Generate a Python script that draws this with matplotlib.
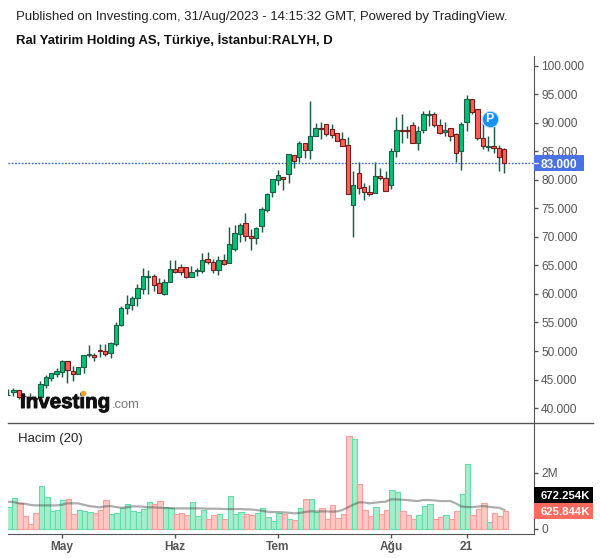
"""Investing.com daily candlestick chart for RALYH with volume pane."""

import matplotlib.patheffects as pe
import matplotlib.pyplot as plt
import numpy as np
from matplotlib.patches import Rectangle

plt.rcParams["font.family"] = ["Liberation Sans", "DejaVu Sans"]

W, H = 600, 558

OPEN = [
    42.25, 42.75, 43.09, 42.16, 41.98, 41.75, 41.98, 43.97, 45.32, 46.02,
    46.37, 48.18, 46.43, 46.02, 47.13, 49.24, 49.35, 50.11, 49.94, 49.59,
    51.28, 54.62, 57.60, 58.13, 59.36, 60.94, 63.04, 63.10, 61.87, 60.06,
    62.16, 64.33, 64.68, 64.68, 63.04, 63.98, 64.09, 66.08, 65.56, 64.27,
    65.91, 65.38, 67.95, 70.58, 72.40, 70.12, 69.77, 71.87, 74.80, 77.95,
    80.06, 80.47, 81.11, 84.33, 84.09, 86.43, 85.32, 87.66, 89.12, 89.77,
    88.89, 88.19, 87.13, 86.09, 75.68, 81.17, 78.72, 77.84, 77.78, 80.65,
    80.30, 79.18, 85.03, 88.78, 88.78, 89.59, 86.44, 88.72, 91.47, 91.52,
    89.59, 88.48, 89.07, 88.02, 85.03, 90.12, 94.16, 92.40, 87.31, 85.73,
    85.91, 85.56, 85.38,
]
CLOSE = [
    42.30, 43.09, 41.98, 42.04, 41.81, 41.63, 44.15, 45.38, 46.08, 46.43,
    48.18, 46.60, 46.02, 47.13, 49.24, 49.41, 48.88, 49.94, 49.53, 51.34,
    54.50, 57.49, 58.19, 59.24, 60.99, 63.10, 63.16, 61.64, 60.23, 62.16,
    64.33, 63.92, 63.92, 62.92, 63.92, 64.15, 65.91, 65.56, 64.27, 65.91,
    65.20, 68.71, 70.64, 72.05, 70.12, 69.77, 71.52, 74.85, 77.49, 80.12,
    80.82, 80.23, 84.50, 83.39, 86.43, 85.32, 87.66, 89.07, 89.01, 88.13,
    87.95, 86.90, 86.02, 77.49, 79.07, 78.54, 77.84, 77.61, 80.65, 80.30,
    78.13, 85.03, 88.72, 88.66, 88.66, 86.44, 88.54, 91.52, 91.58, 89.59,
    88.31, 88.72, 87.66, 84.68, 89.77, 94.16, 91.87, 87.31, 86.03, 85.91,
    85.56, 83.98, 83.00,
]
HIGH = [
    43.27, 43.45, 43.09, 42.57, 42.57, 42.10, 44.73, 45.79, 46.20, 46.96,
    48.42, 48.18, 47.36, 47.25, 49.29, 51.05, 49.70, 51.22, 51.22, 51.57,
    55.03, 57.89, 59.82, 59.65, 61.75, 64.50, 64.21, 63.45, 62.81, 62.57,
    65.96, 65.96, 65.26, 64.68, 64.91, 64.50, 67.13, 67.37, 66.08, 66.67,
    67.02, 71.75, 72.11, 72.40, 74.21, 71.35, 71.70, 75.20, 77.66, 80.12,
    81.75, 80.47, 84.50, 84.33, 86.84, 86.43, 93.86, 90.00, 90.18, 89.77,
    89.83, 88.19, 88.42, 87.55, 81.58, 83.10, 79.42, 79.13, 83.10, 82.05,
    81.58, 85.62, 91.06, 91.58, 89.42, 90.12, 89.42, 92.11, 92.28, 91.87,
    90.70, 90.18, 89.07, 88.19, 90.12, 94.92, 94.16, 92.40, 90.82, 87.66,
    89.65, 86.09, 85.56,
]
LOW = [
    42.22, 42.10, 41.52, 41.57, 41.40, 41.28, 41.40, 43.45, 44.79, 45.38,
    45.49, 44.44, 44.79, 46.02, 46.20, 48.88, 48.30, 49.00, 49.12, 48.83,
    50.93, 54.44, 56.49, 57.19, 57.89, 60.00, 60.00, 60.53, 60.23, 59.82,
    62.16, 63.68, 63.33, 62.87, 63.04, 63.16, 63.74, 65.26, 63.68, 63.33,
    65.09, 65.38, 67.60, 69.12, 69.30, 67.72, 68.77, 70.94, 74.44, 77.08,
    79.12, 78.25, 79.53, 82.11, 83.22, 83.86, 83.68, 87.66, 87.25, 87.78,
    87.37, 86.90, 86.02, 77.49, 70.06, 77.61, 76.49, 77.20, 77.78, 80.00,
    78.13, 78.48, 84.10, 86.44, 87.43, 86.44, 85.32, 88.31, 89.54, 89.24,
    88.07, 87.78, 86.90, 83.10, 81.82, 88.66, 91.64, 86.96, 85.50, 85.09,
    84.74, 81.58, 81.29,
]
VOLUME = [
    0.762, 1.083, 0.905, 0.440, 0.155, 0.548, 1.512, 1.119, 0.619, 0.655,
    1.012, 1.048, 0.512, 0.655, 0.619, 0.583, 0.548, 0.655, 1.012, 0.512,
    0.548, 0.726, 0.869, 0.619, 0.583, 0.690, 0.940, 0.869, 0.976, 0.762,
    0.726, 0.512, 0.548, 0.476, 0.940, 0.440, 0.655, 0.333, 0.476, 0.512,
    0.333, 1.155, 0.512, 0.583, 0.512, 0.476, 0.548, 0.726, 0.405, 0.262,
    0.548, 0.512, 0.333, 0.298, 0.726, 1.048, 1.048, 0.583, 0.726, 0.333,
    0.833, 0.369, 0.512, 3.298, 3.190, 1.583, 0.655, 0.440, 0.762, 0.512,
    0.655, 1.369, 1.298, 0.619, 0.476, 0.333, 0.476, 0.798, 0.869, 0.333,
    0.405, 0.476, 0.333, 0.619, 1.226, 2.298, 0.476, 0.690, 0.905, 0.226,
    0.548, 0.440, 0.626,
]
VOLUME_MA = [
    0.964, 0.952, 0.905, 0.893, 0.857, 0.833, 0.833, 0.833, 0.833, 0.833,
    0.857, 0.905, 0.905, 0.905, 0.857, 0.810, 0.786, 0.762, 0.798, 0.810,
    0.774, 0.750, 0.762, 0.798, 0.798, 0.786, 0.762, 0.762, 0.750, 0.738,
    0.738, 0.726, 0.726, 0.726, 0.726, 0.726, 0.726, 0.714, 0.714, 0.714,
    0.702, 0.702, 0.702, 0.702, 0.690, 0.690, 0.667, 0.643, 0.607, 0.595,
    0.595, 0.583, 0.571, 0.548, 0.560, 0.595, 0.619, 0.619, 0.619, 0.619,
    0.607, 0.619, 0.667, 0.762, 0.857, 0.940, 0.940, 0.905, 0.929, 0.952,
    0.964, 1.048, 1.048, 1.036, 1.024, 1.000, 0.988, 1.024, 1.024, 1.012,
    0.988, 0.988, 0.988, 0.905, 0.798, 0.774, 0.774, 0.786, 0.810, 0.786,
    0.762, 0.750, 0.672,
]

PRICE_TICKS = [40, 45, 50, 55, 60, 65, 70, 75, 80, 85, 90, 95, 100]
VOLUME_TICKS = [0, 2]
VOLUME_TICK_LABELS = ["0", "2M"]
MONTH_POS = [10, 31, 50, 71, 85]
MONTH_LABELS = ["May", "Haz", "Tem", "Ağu", "21"]
LAST_PRICE = 83.0

UP = "#00c274"
UP_EDGE = "#1b5e45"
DOWN = "#ff5f57"
DOWN_EDGE = "#751c1c"
WICK = "#1b5e45"
AXIS = "#555555"
TEXT = "#555555"


def px_rect(left, top, right, bottom):
    return [left / W, 1 - bottom / H, (right - left) / W, (bottom - top) / H]


def tag(fig, top, bottom, right, color, label, size):
    fig.add_artist(
        Rectangle(
            (534 / W, 1 - bottom / H),
            (right - 534) / W,
            (bottom - top) / H,
            transform=fig.transFigure,
            facecolor=color,
            edgecolor="none",
            zorder=5,
        )
    )
    fig.text(
        541 / W, 1 - (top + bottom) / 2 / H, label,
        color="white", fontsize=size, fontweight="bold", va="center_baseline", zorder=6,
    )


def main():
    o = np.array(OPEN)
    c = np.array(CLOSE)
    idx = np.arange(len(o))
    up = c >= o

    fig = plt.figure(figsize=(W / 100, H / 100), dpi=100)
    ax = fig.add_axes(px_rect(8, 56, 534, 423))
    vol = fig.add_axes(px_rect(8, 423, 534, 534))

    per_px = 1 / 5.395
    xlim = (0, 526 * per_px)
    ax.set_xlim(*xlim)
    vol.set_xlim(*xlim)
    ax.set_ylim(37.37, 101.75)
    vol.set_ylim(-0.189, 3.775)

    ax.axhline(LAST_PRICE, color="#2962e8", linewidth=1.0, linestyle=(0, (1.2, 1.2)), zorder=1)
    ax.vlines(idx, LOW, HIGH, color=WICK, linewidth=1.05, zorder=2)
    ax.bar(
        idx, np.abs(c - o), bottom=np.minimum(o, c), width=0.8,
        color=[UP if u else DOWN for u in up],
        edgecolor=[UP_EDGE if u else DOWN_EDGE for u in up],
        linewidth=0.8, zorder=3,
    )

    vol.bar(
        idx + 0.2, VOLUME, width=1.0,
        color=["#a6edcb" if u else "#ffc8c4" for u in up],
        edgecolor=["#62dcaa" if u else "#ff9e98" for u in up],
        linewidth=0.8, zorder=2,
    )
    vol.plot(idx, VOLUME_MA, color="#4a4a4a", alpha=0.45, linewidth=1.6, zorder=3)

    for a in (ax, vol):
        a.spines["top"].set_visible(False)
        a.spines["left"].set_visible(False)
        a.spines["right"].set_color(AXIS)
        a.spines["bottom"].set_visible(False)
        a.yaxis.tick_right()
        a.tick_params(axis="y", length=3, width=1, color=AXIS, labelcolor=TEXT, labelsize=8.6, pad=2.2)

    vol.spines["bottom"].set_visible(True)
    vol.spines["bottom"].set_color(AXIS)
    ax.set_xticks([])
    ax.set_yticks(PRICE_TICKS)
    ax.set_yticklabels([f"{t:.3f}" for t in PRICE_TICKS])
    vol.set_yticks(VOLUME_TICKS)
    vol.set_yticklabels(VOLUME_TICK_LABELS)
    vol.set_xticks(MONTH_POS)
    vol.set_xticklabels(MONTH_LABELS, fontweight="bold")
    vol.tick_params(axis="x", length=3, width=1, color=AXIS, labelcolor=TEXT, labelsize=8.6, pad=2)

    # pane separator runs past the price scale
    fig.add_artist(plt.Line2D([8 / W, 593 / W], [1 - 423 / H] * 2, color=AXIS, linewidth=1.0))

    ax.scatter([89.3], [90.65], s=140, color="#1a90f5", edgecolor="#bfe0fb", linewidth=0.8, zorder=5)
    ax.text(89.3, 90.65, "P", color="white", fontsize=9, fontweight="bold",
            ha="center", va="center", zorder=6)

    tag(fig, 155, 171, 584, "#4a72e2", "83.000", 8.6)
    tag(fig, 487, 503, 593, "#000000", "672.254K", 8.2)
    tag(fig, 503, 519, 593, "#ff6a60", "625.844K", 8.2)
    fig.add_artist(plt.Line2D([534 / W, 538 / W], [1 - 163 / H] * 2, color="white", linewidth=0.9, zorder=7))

    fig.text(16 / W, 1 - 17 / H, "Published on Investing.com, 31/Aug/2023 - 14:15:32 GMT, Powered by TradingView.",
             fontsize=9.47, color="#222222", va="center")
    fig.text(16 / W, 1 - 40 / H, "Ral Yatirim Holding AS, Türkiye, İstanbul:RALYH, D",
             fontsize=9.42, fontweight="bold", color="#111111", va="center")
    fig.text(18 / W, 1 - 439 / H, "Hacim (20)", fontsize=9.5, color="#222222", va="center")

    # watermark
    fig.text(20 / W, 1 - 408 / H, "Investing", fontsize=14.8, fontweight="bold", color="#111111",
             va="baseline", zorder=4,
             path_effects=[pe.withStroke(linewidth=0.7, foreground="#111111")])
    fig.text(112 / W, 1 - 408 / H, ".com", fontsize=9.4, color="#777777", va="baseline", zorder=4)
    fig.add_artist(plt.Line2D([83 / W], [1 - 393 / H], marker="o", markersize=3, color="#f5a623",
                              linestyle="none", zorder=5))

    fig.savefig("out.png", dpi=100)
    plt.close(fig)


if __name__ == "__main__":
    main()
